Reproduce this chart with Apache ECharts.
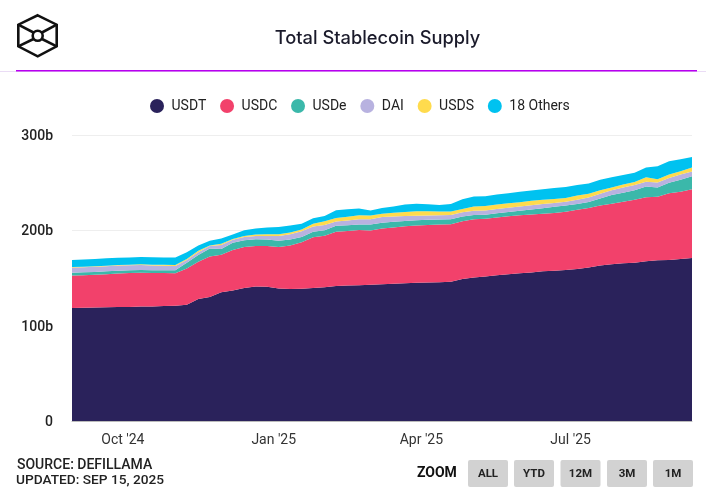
<!DOCTYPE html>
<html><head><meta charset="utf-8">
<style>html,body{margin:0;padding:0;background:#fff}#c{width:706px;height:497px}</style>
<script src="https://cdn.jsdelivr.net/npm/echarts@6/dist/echarts.min.js"></script>
</head><body><div id="c"></div>
<script>
const startDate='2024-08-31';
const stepDays=7;
const seriesNames=['USDT','USDC','USDe','DAI','USDS','18 Others'];
const seriesColors=['#2A225B','#F2416B','#3BB8AA','#B8B2E0','#FFDB4D','#00C2F0'];
const usdt=[118.6,118.8,119,119.2,119.5,119.7,120,120.2,120.5,120.8,122,128,130,135,137,139.5,141,140.8,139,138.5,138.7,139.5,140.3,141.5,142.2,142.5,143,143.5,144,144.5,145,145.3,145.6,146,149,150.5,151.5,152.8,154,155,155.8,157,157.5,158.5,159.5,161,163,164.5,165.5,166,167.5,168.5,169,170,171];
const usdc=[33.9,34,34.3,34.8,35.3,35.5,35.6,35.1,34.7,34.2,38,39,42.5,39.5,42.5,43,42.6,42.8,43.5,45.7,48.8,53.2,53.9,57.1,57.1,57.9,56.8,58.3,59,59.8,60,60.2,60.4,60.5,60.5,61,60.7,60.7,60.8,60.8,60.9,60.5,60.8,61,62,62.5,63,63.5,64.5,66,67.2,66.8,70,70.5,72];
const usde=[3.1,3.2,3.1,3,2.9,2.8,2.7,2.7,2.8,3,6,7,8.5,6,7.5,7,7,6.7,6.5,6.3,5.5,5.9,5.8,6.2,6,5.6,6.2,6.2,6,5.5,5.5,5.5,5.3,5.2,5,4.5,4.1,4.3,4.5,4.7,5.1,5.7,6.4,6.5,6,6.2,7.5,9,9.5,10,11.3,9.7,11,12.5,13.6];
const dai=[5.4,5.3,5.4,5.3,5.3,5.3,5.3,5.2,4.9,4.6,3,3,2.5,4,3,3.5,3.4,3.7,5,5.3,6,5.4,5.5,4.4,4.9,5.5,5.5,6,5.5,5.2,4.7,4.5,4.5,4.3,4.5,4.5,4.5,4.7,4.5,4.5,4.5,4.4,4,4,4.5,4.8,5,5,5.5,5.5,5,5.3,5,5.5,5.1];
const usds=[0.6,0.6,0.6,0.6,0.6,0.6,0.7,0.8,1,1.1,1,1.5,0.5,1.5,1,1,1.5,2,2,2,2,3,4,3.8,4.1,4.3,4,3.5,4,4.3,4.7,4.4,3.9,3.7,3.5,4.5,4.6,4.5,4.5,4.5,4.7,4.4,4.1,4,4.5,4,3.5,3,3,3.3,4.6,3.2,3.5,3.5,4.3];
const others=[7.4,7.4,7.4,7.7,7.6,7.7,7.6,7.7,7.7,7.7,7,5.5,5,5.5,4.5,6,6.5,7,7.5,7.2,6,5.7,5.5,8,7.7,7.2,5.3,5.9,6.5,7.7,8.1,7.4,6.9,7.8,10,10.5,10.4,10.5,10.7,11,10.8,11,11.6,11.5,11,10.7,11,10.6,10,9.7,10.4,13.7,14,12.5,11];
const tickDates=['2024-10-01','2025-01-01','2025-04-01','2025-07-01'];
const tickLabels=["Oct '24","Jan '25","Apr '25","Jul '25"];
const yTicks=[0,100,200,300];
const zoomButtons=['ALL','YTD','12M','3M','1M'];
const sourceLines=['SOURCE: DEFILLAMA','UPDATED: SEP 15, 2025'];

const DAY=86400000;
const t0=Date.parse(startDate+'T00:00:00');
const dates=usdt.map((_,i)=>t0+i*stepDays*DAY);
const tickTimes=tickDates.map(d=>Date.parse(d+'T00:00:00'));
const allSeries=[usdt,usdc,usde,dai,usds,others];
const font='Roboto, sans-serif';

const btnX=[468,514,560.5,607,653];
const logoStyle={fill:'none',stroke:'#111',lineWidth:2.6};
const graphic=[
 {type:'rect',shape:{x:0,y:71,width:706,height:1},style:{fill:'#eadcf5'},silent:true},
 {type:'rect',shape:{x:16,y:70,width:681,height:1.4},style:{fill:'#B800F0'},silent:true},
 {type:'polygon',shape:{points:[[37.7,15.3],[56.7,24.7],[56.7,46.3],[37.7,56.3],[18.3,46.3],[18.3,24.7]]},style:logoStyle},
 {type:'circle',shape:{cx:37.7,cy:35.7,r:5},style:logoStyle},
 {type:'polyline',shape:{points:[[18.3,24.7],[33.5,32.5]]},style:logoStyle},
 {type:'polyline',shape:{points:[[56.7,24.7],[42,32.5]]},style:logoStyle},
 {type:'polyline',shape:{points:[[18.3,46.3],[33.5,39]]},style:logoStyle},
 {type:'polyline',shape:{points:[[56.7,46.3],[42,39]]},style:logoStyle},
 {type:'text',x:17,y:465.5,style:{text:sourceLines[0],font:'500 14px Roboto',fill:'#222',textVerticalAlign:'middle'}},
 {type:'text',x:16,y:480.5,style:{text:sourceLines[1],font:'500 13.7px Roboto',fill:'#222',textVerticalAlign:'middle'}},
 {type:'text',x:417,y:473,style:{text:'ZOOM',font:'700 14px Roboto',fill:'#111',textVerticalAlign:'middle'}}
];
zoomButtons.forEach((b,i)=>{
 graphic.push({type:'rect',shape:{x:btnX[i],y:460,width:40,height:27,r:2},style:{fill:'#D2D2D2'}});
 graphic.push({type:'text',x:btnX[i]+20,y:474,style:{text:b,font:'700 11.5px Roboto',fill:'#222',textAlign:'center',textVerticalAlign:'middle'}});
});

const chart=echarts.init(document.getElementById('c'),null,{renderer:'canvas'});
chart.setOption({
 animation:false,
 backgroundColor:'#fff',
 title:{text:'Total Stablecoin Supply',left:372.5,top:25,textAlign:'center',textStyle:{fontFamily:'Inter, sans-serif',fontWeight:500,fontSize:18.3,color:'#1a1a2a'}},
 legend:{left:145,top:94,itemGap:13.8,itemWidth:19,itemHeight:14,icon:'circle',selectedMode:false,
  textStyle:{fontFamily:font,fontSize:14,color:'#222'},data:seriesNames},
 grid:{left:72,right:14,top:135,bottom:76},
 xAxis:{type:'time',min:t0,max:dates[dates.length-1],splitNumber:4,minInterval:80*DAY,maxInterval:100*DAY,
  axisLine:{show:true,onZero:false,lineStyle:{color:'#bbb',width:1}},axisTick:{show:false},splitLine:{show:false},
  axisLabel:{hideOverlap:false,margin:12,showMinLabel:false,showMaxLabel:false,
   formatter:v=>tickLabels[tickTimes.indexOf(typeof v==='number'?v:+v)]||'',fontFamily:font,fontSize:14,color:'#333'}},
 yAxis:{type:'value',min:0,max:300,interval:100,
  axisLine:{show:false},axisTick:{show:false},splitLine:{lineStyle:{color:'#eee',width:1}},
  axisLabel:{margin:19,formatter:v=>yTicks.includes(v)?'{a|'+(v===0?'0':v+'b')+'}':'',
   rich:{a:{padding:[3,0,0,0],fontFamily:font,fontSize:14,fontWeight:500,color:'#222'}}}},
 graphic:graphic,
 series:seriesNames.map((n,k)=>({name:n,type:'line',stack:'s',showSymbol:false,symbol:'none',
   lineStyle:{width:0},itemStyle:{color:seriesColors[k]},areaStyle:{color:seriesColors[k],opacity:1},
   data:dates.map((d,i)=>[d,allSeries[k][i]])}))
});
</script></body></html>
